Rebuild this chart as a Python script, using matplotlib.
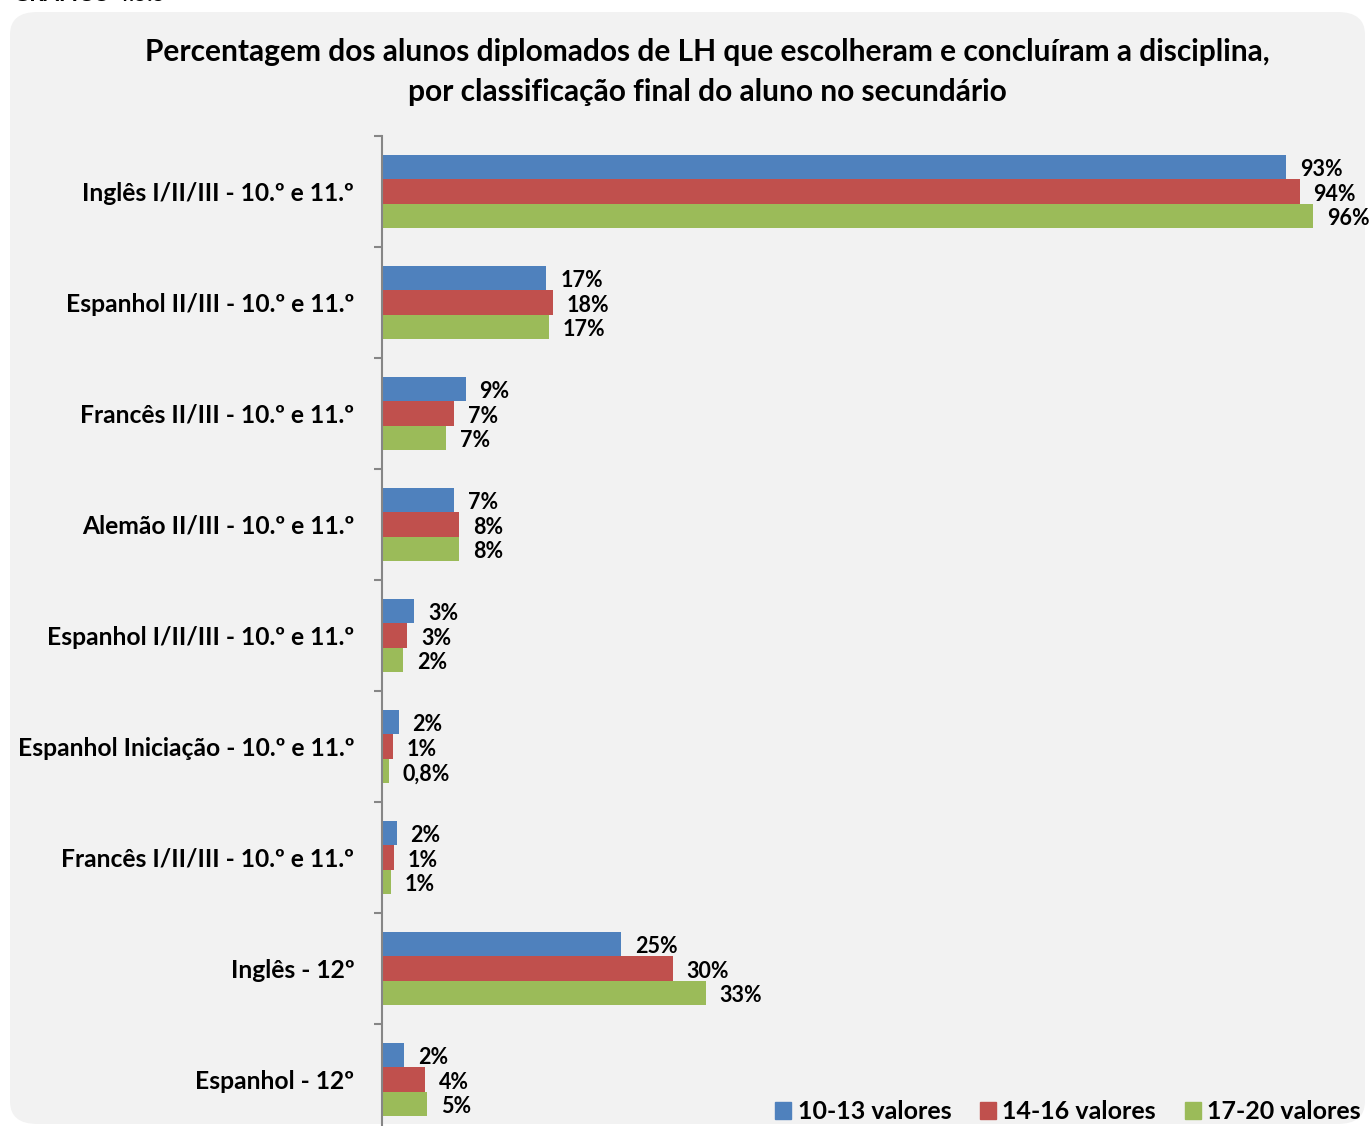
import matplotlib.pyplot as plt
import matplotlib.patches as mpatches
from matplotlib.patches import FancyBboxPatch
import numpy as np

plt.rcParams['font.family'] = ['Lato', 'DejaVu Sans']
plt.rcParams['font.weight'] = 'bold'

categories = ['Inglês I/II/III - 10.º e 11.º', 'Espanhol II/III - 10.º e 11.º',
              'Francês II/III - 10.º e 11.º', 'Alemão II/III - 10.º e 11.º',
              'Espanhol I/II/III - 10.º e 11.º', 'Espanhol Iniciação - 10.º e 11.º',
              'Francês I/II/III - 10.º e 11.º', 'Inglês - 12º', 'Espanhol - 12º']
series = ['10-13 valores', '14-16 valores', '17-20 valores']
v_10_13 = [93.0, 16.9, 8.6, 7.4, 3.3, 1.7, 1.5, 24.6, 2.3]
v_14_16 = [94.4, 17.6, 7.4, 7.9, 2.6, 1.1, 1.2, 29.9, 4.4]
v_17_20 = [95.8, 17.2, 6.6, 7.9, 2.2, 0.7, 0.9, 33.3, 4.6]
l_10_13 = ['93%', '17%', '9%', '7%', '3%', '2%', '2%', '25%', '2%']
l_14_16 = ['94%', '18%', '7%', '8%', '3%', '1%', '1%', '30%', '4%']
l_17_20 = ['96%', '17%', '7%', '8%', '2%', '0,8%', '1%', '33%', '5%']
COLORS = ['#4F81BD', '#C0504D', '#9BBB59']

fig = plt.figure(figsize=(13.7, 11.26), dpi=100)
fig.patch.set_facecolor('white')

# rounded grey panel behind everything
panel = FancyBboxPatch((10 / 1370, 2 / 1126), 1355 / 1370, 1112 / 1126,
                       boxstyle='round,pad=0,rounding_size=0.02',
                       transform=fig.transFigure, facecolor='#F2F2F2',
                       edgecolor='none', zorder=-5)
fig.patches.append(panel)

# chart number above the panel, cropped by the top edge as in the source page
fig.text(13 / 1370, 1 - 5 / 1126, 'GRÁFICO 4.5.5', fontsize=16, fontweight='bold',
         va='bottom', ha='left')

fig.text(707 / 1370, 1 - 52 / 1126, 'Percentagem dos alunos diplomados de LH que escolheram e concluíram a disciplina,',
         ha='center', va='center', fontsize=21.5, fontweight='bold')
fig.text(707 / 1370, 1 - 92 / 1126, 'por classificação final do aluno no secundário',
         ha='center', va='center', fontsize=21.5, fontweight='bold')

ax = fig.add_axes([382 / 1370, -9 / 1126, 972 / 1370, 999 / 1126])
ax.set_facecolor('none')
ax.set_zorder(2)

y = np.arange(len(categories))
h = 0.222
vals = [v_10_13, v_14_16, v_17_20]
labs = [l_10_13, l_14_16, l_17_20]
for i, (v, lab) in enumerate(zip(vals, labs)):
    ys = y + (i - 1) * h
    ax.barh(ys, v, height=h, color=COLORS[i], edgecolor='none', label=series[i])
    for yy, vv, ll in zip(ys, v, lab):
        ax.annotate(ll, xy=(vv, yy), xytext=(10, -2), textcoords='offset points',
                    ha='left', va='center', fontsize=15.5, fontweight='bold',
                    annotation_clip=False)

ax.set_xlim(0, 100)
ax.set_ylim(len(categories) - 0.5, -0.5)
ax.set_xticks([])
for s in ['top', 'right', 'bottom']:
    ax.spines[s].set_visible(False)
ax.spines['left'].set_color('#868686')
ax.spines['left'].set_linewidth(1.5)

ax.set_yticks(np.arange(len(categories) + 1) - 0.5)
ax.set_yticklabels([])
ax.tick_params(axis='y', which='major', length=6, width=1.5, color='#868686')
ax.set_yticks(y, minor=True)
ax.set_yticklabels(categories, minor=True, fontsize=17.7, fontweight='bold')
ax.tick_params(axis='y', which='minor', length=0, pad=20)

handles = [mpatches.Patch(color=c, label=s) for c, s in zip(COLORS, series)]
fig.legend(handles=handles, loc='lower right', bbox_to_anchor=(1376 / 1370, -12 / 1126),
           ncol=3, frameon=False, fontsize=18, handlelength=0.65, handleheight=0.65,
           handletextpad=0.25, columnspacing=1.15, borderaxespad=0.2)

plt.savefig('out.png', dpi=100)
